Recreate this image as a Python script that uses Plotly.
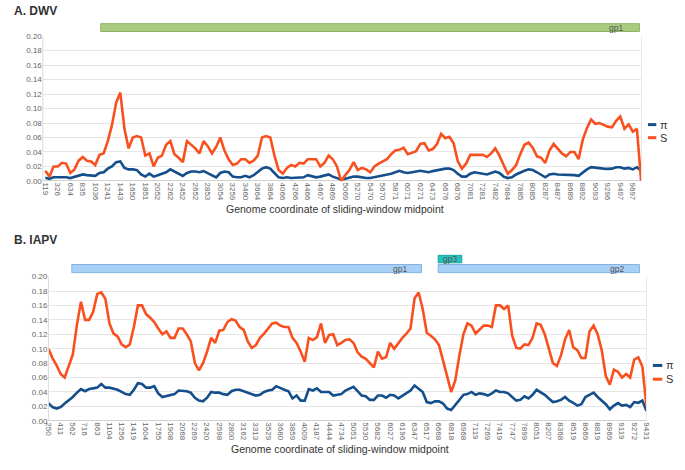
import plotly.graph_objects as go
import numpy as np

# ---------------- DATA ----------------
dwv_ticks = ["119","326","634","835","1036","1241","1443","1650","1851","2052","2262","2452",
             "2652","2853","3054","3259","3460","3664","3864","4066","4266","4466","4667","4869",
             "5069","5270","5470","5670","5871","6071","6271","6473","6676","6876","7081","7281",
             "7482","7684","7885","8085","8287","8487","8689","8892","9093","9296","9497","9697"]

dwv_S = [0.014, 0.006, 0.020, 0.020, 0.025, 0.024, 0.011, 0.016, 0.028, 0.033,
         0.028, 0.027, 0.022, 0.036, 0.038, 0.055, 0.077, 0.108, 0.122, 0.072,
         0.045, 0.060, 0.062, 0.060, 0.035, 0.038, 0.020, 0.032, 0.035, 0.050,
         0.055, 0.037, 0.032, 0.026, 0.055, 0.050, 0.045, 0.038, 0.055, 0.048,
         0.038, 0.047, 0.060, 0.042, 0.030, 0.022, 0.024, 0.030, 0.030, 0.025,
         0.028, 0.035, 0.060, 0.062, 0.060, 0.035, 0.015, 0.010, 0.018, 0.022,
         0.020, 0.025, 0.024, 0.030, 0.030, 0.030, 0.020, 0.025, 0.035, 0.030,
         0.020, 0.000, 0.008, 0.015, 0.026, 0.015, 0.018, 0.016, 0.012, 0.020,
         0.024, 0.027, 0.030, 0.037, 0.042, 0.043, 0.046, 0.037, 0.039, 0.041,
         0.051, 0.052, 0.042, 0.044, 0.051, 0.065, 0.059, 0.061, 0.052, 0.027,
         0.017, 0.024, 0.036, 0.036, 0.036, 0.036, 0.033, 0.038, 0.045, 0.035,
         0.022, 0.010, 0.015, 0.022, 0.037, 0.050, 0.053, 0.046, 0.034, 0.032,
         0.025, 0.042, 0.051, 0.045, 0.038, 0.034, 0.040, 0.040, 0.030, 0.057,
         0.073, 0.085, 0.079, 0.080, 0.077, 0.075, 0.074, 0.083, 0.089, 0.072,
         0.078, 0.068, 0.072, 0.000]

dwv_pi = [0.0045, 0.003, 0.005, 0.005, 0.006, 0.005, 0.004, 0.006, 0.007, 0.009,
          0.008, 0.008, 0.007, 0.011, 0.012, 0.017, 0.020, 0.026, 0.027, 0.018,
          0.016, 0.016, 0.015, 0.009, 0.006, 0.010, 0.006, 0.008, 0.010, 0.012,
          0.016, 0.013, 0.011, 0.007, 0.011, 0.013, 0.013, 0.012, 0.0136, 0.011,
          0.008, 0.005, 0.011, 0.013, 0.012, 0.006, 0.005, 0.005, 0.007, 0.005,
          0.008, 0.012, 0.017, 0.019, 0.017, 0.011, 0.005, 0.004, 0.005, 0.004,
          0.004, 0.005, 0.005, 0.008, 0.006, 0.005, 0.006, 0.008, 0.009, 0.006,
          0.004, 0.002, 0.003, 0.005, 0.006, 0.006, 0.0045, 0.004, 0.004, 0.005,
          0.006, 0.008, 0.009, 0.010, 0.012, 0.014, 0.012, 0.011, 0.012, 0.013,
          0.014, 0.013, 0.012, 0.0136, 0.015, 0.016, 0.017, 0.017, 0.015, 0.010,
          0.006, 0.006, 0.010, 0.012, 0.011, 0.009, 0.009, 0.011, 0.013, 0.011,
          0.006, 0.004, 0.005, 0.009, 0.012, 0.014, 0.016, 0.015, 0.012, 0.008,
          0.005, 0.009, 0.010, 0.009, 0.009, 0.008, 0.009, 0.008, 0.007, 0.012,
          0.016, 0.019, 0.018, 0.018, 0.017, 0.0167, 0.017, 0.019, 0.019, 0.017,
          0.018, 0.016, 0.019, 0.014]

iapv_ticks = ["250","411","562","716","863","1104","1256","1419","1604","1755",
              "1908","2068","2269","2420","2598","2800","3162","3313","3529","3680",
              "3859","4009","4187","4444","4734","5051","5530","5682","6027","6196",
              "6347","6517","6668","6818","6968","7119","7269","7419","7747","7899",
              "8051","8207","8368","8519","8669","8819","8969","9119","9272","9431"]

iapv_S = [0.100, 0.087, 0.077, 0.065, 0.060, 0.075, 0.092, 0.133, 0.165, 0.140,
          0.140, 0.151, 0.176, 0.178, 0.169, 0.135, 0.121, 0.117, 0.106, 0.102,
          0.106, 0.130, 0.160, 0.160, 0.148, 0.143, 0.137, 0.128, 0.120, 0.124,
          0.115, 0.115, 0.128, 0.128, 0.120, 0.110, 0.080, 0.070, 0.080, 0.096,
          0.115, 0.108, 0.125, 0.126, 0.137, 0.141, 0.139, 0.130, 0.126, 0.110,
          0.101, 0.105, 0.115, 0.121, 0.128, 0.135, 0.136, 0.132, 0.130, 0.130,
          0.115, 0.108, 0.096, 0.082, 0.115, 0.112, 0.116, 0.135, 0.108, 0.119,
          0.120, 0.105, 0.108, 0.112, 0.113, 0.108, 0.095, 0.089, 0.086, 0.080,
          0.074, 0.096, 0.086, 0.088, 0.108, 0.100, 0.108, 0.115, 0.121, 0.128,
          0.170, 0.178, 0.155, 0.122, 0.118, 0.113, 0.105, 0.085, 0.062, 0.040,
          0.056, 0.090, 0.120, 0.135, 0.132, 0.121, 0.126, 0.132, 0.132, 0.130,
          0.160, 0.160, 0.155, 0.160, 0.118, 0.101, 0.100, 0.106, 0.105, 0.115,
          0.135, 0.133, 0.120, 0.101, 0.080, 0.076, 0.091, 0.113, 0.126, 0.102,
          0.098, 0.087, 0.087, 0.124, 0.132, 0.120, 0.098, 0.062, 0.050, 0.071,
          0.068, 0.060, 0.065, 0.060, 0.085, 0.088, 0.075, 0.020]

iapv_pi = [0.0245, 0.019, 0.017, 0.019, 0.024, 0.028, 0.033, 0.039, 0.044, 0.041,
           0.044, 0.045, 0.046, 0.051, 0.046, 0.046, 0.045, 0.043, 0.040, 0.037,
           0.036, 0.043, 0.052, 0.051, 0.046, 0.046, 0.048, 0.038, 0.033, 0.034,
           0.035, 0.037, 0.042, 0.042, 0.041, 0.039, 0.032, 0.028, 0.027, 0.032,
           0.040, 0.039, 0.039, 0.037, 0.036, 0.041, 0.043, 0.043, 0.041, 0.038,
           0.036, 0.035, 0.036, 0.040, 0.042, 0.043, 0.048, 0.045, 0.043, 0.041,
           0.031, 0.035, 0.028, 0.028, 0.044, 0.042, 0.045, 0.040, 0.040, 0.040,
           0.035, 0.036, 0.037, 0.042, 0.045, 0.047, 0.041, 0.035, 0.034, 0.029,
           0.029, 0.035, 0.035, 0.032, 0.036, 0.035, 0.031, 0.035, 0.038, 0.042,
           0.049, 0.044, 0.040, 0.026, 0.0245, 0.027, 0.027, 0.024, 0.017, 0.015,
           0.022, 0.029, 0.036, 0.037, 0.040, 0.036, 0.038, 0.037, 0.035, 0.038,
           0.042, 0.040, 0.040, 0.038, 0.033, 0.028, 0.029, 0.034, 0.031, 0.036,
           0.043, 0.040, 0.036, 0.031, 0.026, 0.027, 0.029, 0.033, 0.028, 0.025,
           0.021, 0.023, 0.033, 0.036, 0.039, 0.033, 0.028, 0.023, 0.016, 0.021,
           0.0245, 0.021, 0.022, 0.019, 0.026, 0.025, 0.028, 0.0136]

# genes (in sliding-window index units)
dwv_gene_names = ["gp1"]
dwv_gene_start = [13.3]
dwv_gene_end = [142.6]

iapv_gene_names = ["gp1", "gp2", "gp3"]
iapv_gene_start = [5.75, 95.8, 95.8]
iapv_gene_end = [91.7, 145.3, 101.6]

WINDOWS_PER_TICK = 3

# ---------------- STYLE ----------------
W, H = 685, 470
S_COLOR = "#f9501f"
PI_COLOR = "#154f8b"
FONT = "Liberation Sans, Arial, sans-serif"
GRID = "#e6e6e6"

def fx(px):
    return px / W

def fy(py):
    return 1 - py / H

fig = go.Figure()

x_dwv = np.arange(len(dwv_S))
x_iapv = np.arange(len(iapv_S))

fig.add_trace(go.Scatter(x=x_dwv, y=dwv_pi, mode="lines", name="π",
                         line=dict(color=PI_COLOR, width=2.6), xaxis="x", yaxis="y"))
fig.add_trace(go.Scatter(x=x_dwv, y=dwv_S, mode="lines", name="S",
                         line=dict(color=S_COLOR, width=2.6), xaxis="x", yaxis="y"))
fig.add_trace(go.Scatter(x=x_iapv, y=iapv_pi, mode="lines", name="π",
                         line=dict(color=PI_COLOR, width=2.6), xaxis="x2", yaxis="y2"))
fig.add_trace(go.Scatter(x=x_iapv, y=iapv_S, mode="lines", name="S",
                         line=dict(color=S_COLOR, width=2.6), xaxis="x2", yaxis="y2"))

yticks = [round(0.02 * i, 2) for i in range(11)]
tickfont = dict(family=FONT, size=8, color="#666666")

common_y = dict(range=[-0.0008, 0.2], tickvals=yticks, tickformat=".2f",
                showgrid=True, gridcolor=GRID, gridwidth=1,
                zeroline=True, zerolinecolor="#d0d0d0", zerolinewidth=1,
                showline=False, ticks="", tickfont=tickfont, fixedrange=True)

common_x = dict(showgrid=False, zeroline=False, ticks="", tickangle=90,
                tickfont=tickfont, showline=False, fixedrange=True)

fig.update_layout(
    width=W, height=H,
    margin=dict(l=0, r=0, t=0, b=0),
    paper_bgcolor="white", plot_bgcolor="white",
    showlegend=False,
    xaxis=dict(common_x, domain=[fx(38.3), fx(645)], range=[-0.6, 143.1],
               tickvals=list(range(0, len(dwv_ticks) * WINDOWS_PER_TICK, WINDOWS_PER_TICK)),
               ticktext=dwv_ticks, anchor="y"),
    yaxis=dict(common_y, domain=[fy(180.6), fy(32.7)], anchor="x"),
    xaxis2=dict(common_x, domain=[fx(44), fx(650)], range=[0, 147],
                tickvals=list(range(0, len(iapv_ticks) * WINDOWS_PER_TICK, WINDOWS_PER_TICK)),
                ticktext=iapv_ticks, anchor="y2"),
    yaxis2=dict(common_y, domain=[fy(424.6), fy(277.3)], anchor="x2"),
)

shapes = []
annotations = []

# plot frame side lines
for (x0, x1, y0, y1) in [(38.3, 645, 32.7, 180.6), (44, 650, 277.3, 424.6)]:
    shapes.append(dict(type="line", xref="paper", yref="paper", x0=fx(x0), x1=fx(x0),
                       y0=fy(y1), y1=fy(y0), line=dict(color="#dcdcdc", width=1)))
    shapes.append(dict(type="line", xref="paper", yref="paper", x0=fx(x1), x1=fx(x1),
                       y0=fy(y1), y1=fy(y0), line=dict(color="#e8e8e8", width=1)))

# gene bars
GREEN = ("#a9cb82", "#8db466")
BLUE = ("#a8cff5", "#84b3e3")
TEAL = ("#25c3c0", "#17a4a1")

for name, s, e in zip(dwv_gene_names, dwv_gene_start, dwv_gene_end):
    shapes.append(dict(type="rect", xref="x", yref="paper", x0=s, x1=e,
                       y0=fy(28), y1=fy(20), fillcolor=GREEN[0],
                       line=dict(color=GREEN[1], width=1), layer="above"))
    annotations.append(dict(x=e, y=fy(24), xref="x", yref="paper", text=name,
                            showarrow=False, xanchor="right", yanchor="middle", xshift=-14,
                            font=dict(family=FONT, size=8.5, color="#555555")))

for name, s, e in zip(iapv_gene_names, iapv_gene_start, iapv_gene_end):
    if name == "gp3":
        col = TEAL
        y0, y1 = 263.3, 255.7
        annotations.append(dict(x=(s + e) / 2, y=fy(259.5), xref="x2", yref="paper", text=name,
                                showarrow=False, xanchor="center", yanchor="middle",
                                font=dict(family=FONT, size=8.5, color="#555555")))
    else:
        col = BLUE
        y0, y1 = 273.3, 265
        annotations.append(dict(x=e, y=fy(269.2), xref="x2", yref="paper", text=name,
                                showarrow=False, xanchor="right", yanchor="middle",
                                xshift=-12 if name == "gp1" else -14,
                                font=dict(family=FONT, size=8.5, color="#555555")))
    shapes.append(dict(type="rect", xref="x2", yref="paper", x0=s, x1=e,
                       y0=fy(y0), y1=fy(y1), fillcolor=col[0],
                       line=dict(color=col[1], width=1), layer="above"))

# panel titles
annotations.append(dict(x=fx(7), y=fy(7.5), xref="paper", yref="paper", text="<b>A. DWV</b>",
                        showarrow=False, xanchor="left", yanchor="middle",
                        font=dict(family=FONT, size=12, color="#333333")))
annotations.append(dict(x=fx(7), y=fy(240), xref="paper", yref="paper", text="<b>B. IAPV</b>",
                        showarrow=False, xanchor="left", yanchor="middle",
                        font=dict(family=FONT, size=12, color="#333333")))

# axis titles
XT = "Genome coordinate of sliding-window midpoint"
annotations.append(dict(x=fx(334), y=fy(208.5), xref="paper", yref="paper", text=XT,
                        showarrow=False, xanchor="center", yanchor="middle",
                        font=dict(family=FONT, size=10.5, color="#333333")))
annotations.append(dict(x=fx(339), y=fy(453), xref="paper", yref="paper", text=XT,
                        showarrow=False, xanchor="center", yanchor="middle",
                        font=dict(family=FONT, size=10.5, color="#333333")))

# legends
for (lx0, lx1, tx, ypi, ys) in [(651.5, 660, 662, 122.7, 136), (656.5, 666, 668, 367.7, 381.7)]:
    for (yy, col, lab) in [(ypi, PI_COLOR, "π"), (ys, S_COLOR, "S")]:
        shapes.append(dict(type="line", xref="paper", yref="paper", x0=fx(lx0), x1=fx(lx1),
                           y0=fy(yy), y1=fy(yy), line=dict(color=col, width=3)))
        annotations.append(dict(x=fx(tx), y=fy(yy), xref="paper", yref="paper", text=lab,
                                showarrow=False, xanchor="left", yanchor="middle",
                                font=dict(family=FONT, size=11, color="#333333")))

fig.update_layout(shapes=shapes, annotations=annotations)

fig.write_html("out.html",
               config={"displayModeBar": False},
               post_script="document.body.style.margin='0';document.body.style.overflow='hidden';")
